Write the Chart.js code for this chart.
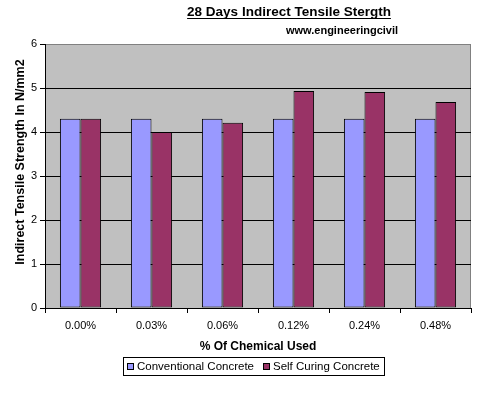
<!DOCTYPE html>
<html><head><meta charset="utf-8">
<script src="https://cdn.jsdelivr.net/npm/chart.js@4.4.0/dist/chart.umd.min.js"></script>
<style>html,body{margin:0;padding:0;background:#fff;}#wrap{width:479px;height:393px;}</style>
</head><body><div id="wrap"><canvas id="c" width="479" height="393"></canvas></div>
<script>
const categories = ["0.00%", "0.03%", "0.06%", "0.12%", "0.24%", "0.48%"];
const conventional = [4.3, 4.3, 4.3, 4.3, 4.3, 4.3];
const selfCuring = [4.3, 4.0, 4.21, 4.93, 4.91, 4.68];
const seriesNames = ["Conventional Concrete", "Self Curing Concrete"];
const yTicks = [0, 1, 2, 3, 4, 5, 6];
const chartTitle = "28 Days Indirect Tensile Stergth";
const chartSub = "www.engineeringcivil";
const xTitle = "% Of Chemical Used";
const yTitle = "Indirect Tensile Strength In N/mm2";
const colors = ["#9999FF", "#993366"];
const FONT = "'Liberation Sans', Arial, sans-serif";

const decor = {
  id: 'decor',
  beforeDraw(chart) {
    const {ctx, chartArea: a} = chart;
    ctx.save();
    ctx.fillStyle = '#C0C0C0';
    ctx.fillRect(a.left, a.top, a.right - a.left, a.bottom - a.top);
    ctx.strokeStyle = '#808080';
    ctx.lineWidth = 1;
    ctx.beginPath();
    ctx.moveTo(a.left, a.top + 0.5); ctx.lineTo(a.right - 0.5, a.top + 0.5); ctx.lineTo(a.right - 0.5, a.bottom);
    ctx.stroke();
    ctx.restore();
  },
  afterDraw(chart) {
    const {ctx} = chart;
    ctx.save();
    ctx.fillStyle = '#000';
    ctx.textBaseline = 'alphabetic';
    // title
    ctx.font = "bold 13.5px " + FONT;
    ctx.textAlign = 'center';
    ctx.fillText(chartTitle, 289, 16);
    const w = ctx.measureText(chartTitle).width;
    ctx.fillRect(289 - w / 2, 18, w, 1);
    // subtitle
    ctx.font = "bold 11px " + FONT;
    ctx.textAlign = 'left';
    ctx.fillText(chartSub, 286, 34);
    // y title
    ctx.font = "bold 12.5px " + FONT;
    ctx.translate(24, 162);
    ctx.rotate(-Math.PI / 2);
    ctx.textAlign = 'center';
    ctx.fillText(yTitle, 0, 0);
    ctx.setTransform(1, 0, 0, 1, 0, 0);
    // legend
    ctx.strokeStyle = '#000';
    ctx.strokeRect(123.5, 357.5, 261, 18);
    ctx.font = "11.5px " + FONT;
    ctx.textAlign = 'left';
    ctx.textBaseline = 'middle';
    const items = [[127, 137], [263, 273]];
    chart.data.datasets.forEach((ds, i) => {
      const [mx, tx] = items[i];
      ctx.fillStyle = ds.backgroundColor;
      ctx.fillRect(mx, 363, 7, 7);
      ctx.strokeRect(mx + 0.5, 363.5, 6, 6);
      ctx.fillStyle = '#000';
      ctx.fillText(ds.label, tx, 367);
    });
    ctx.restore();
  }
};

new Chart(document.getElementById('c'), {
  type: 'bar',
  data: {
    labels: categories,
    datasets: [
      {label: seriesNames[0], data: conventional, backgroundColor: colors[0], borderColor: '#000', borderWidth: 1, borderSkipped: false},
      {label: seriesNames[1], data: selfCuring, backgroundColor: colors[1], borderColor: '#000', borderWidth: 1, borderSkipped: false}
    ]
  },
  options: {
    responsive: false,
    animation: false,
    devicePixelRatio: 1,
    layout: {padding: {left: 0, top: 44, right: 8, bottom: 35}},
    datasets: {bar: {categoryPercentage: 0.58, barPercentage: 1.0}},
    plugins: {legend: {display: false}, title: {display: false}, tooltip: {enabled: false}},
    scales: {
      x: {
        afterFit(s) { s.height = 50; },
        grid: {drawOnChartArea: false, drawTicks: true, tickLength: 5, color: '#000', offset: true},
        border: {color: '#000', width: 1},
        ticks: {color: '#000', font: {family: FONT, size: 11}, padding: 6},
        title: {display: true, text: xTitle, color: '#000', font: {family: FONT, size: 12, weight: 'bold'}, padding: {top: 0, bottom: 4}}
      },
      y: {
        min: 0, max: 6,
        afterFit(s) { s.width = 45; },
        afterBuildTicks(s) { s.ticks = yTicks.map(v => ({value: v})); },
        grid: {color: (c) => c.tick && c.tick.value === 6 ? '#808080' : '#000', tickColor: '#000', tickLength: 5, drawTicks: true},
        border: {color: '#000', width: 1},
        ticks: {color: '#000', font: {family: FONT, size: 11}, padding: 3},
        title: {display: false}
      }
    }
  },
  plugins: [decor]
});
</script></body></html>
